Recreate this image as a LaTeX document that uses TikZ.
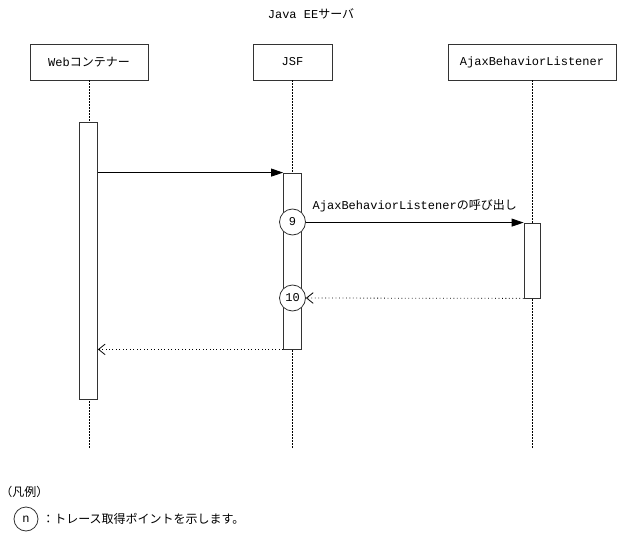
\documentclass[tikz,border=0pt]{standalone}
\usepackage{fontspec}
\setmainfont{Liberation Mono}
\newfontfamily\jp{Noto Sans CJK JP}
\usetikzlibrary{arrows.meta,positioning}

\begin{document}
\begin{tikzpicture}[x=0.75pt,y=-0.75pt,font=\fontsize{9pt}{11pt}\selectfont,
  lifebox/.style={draw=black!80,line width=0.6pt,inner sep=0pt,minimum height=27pt},
  actbox/.style={draw=black!80,fill=white,line width=0.6pt,inner sep=0pt,minimum width=13.5pt},
  lifeline/.style={line width=0.6pt,dash pattern=on 1.5pt off 0.75pt},
  msg/.style={line width=0.6pt,-{Triangle[length=9pt,width=6pt]}},
  ret/.style={line width=0.6pt,dotted,-{Straight Barb[length=5pt,width=8pt]}},
  tpoint/.style={draw=black!80,fill=white,circle,line width=0.6pt,inner sep=0pt,minimum size=19.5pt}]
\useasboundingbox (0,0) rectangle (623,559);

% title and objects
\node (title) at (311,14) {Java EE{\jp サーバ}};
\node[lifebox,minimum width=88.5pt] (web) at (89,62) {Web{\jp コンテナー}};
\node[lifebox,minimum width=59.25pt] (jsf) at (292.5,62) {JSF};
\node[lifebox,minimum width=126pt] (abl) at (532,62) {AjaxBehaviorListener};

% lifelines
\coordinate (bot) at (0,448);
\draw[lifeline] (web.south) -- (web.south |- bot);
\draw[lifeline] (jsf.south) -- (jsf.south |- bot);
\draw[lifeline] (abl.south) -- (abl.south |- bot);

% activations
\node[actbox,minimum height=207.75pt] (webact) at (88.5,260.5) {};
\node[actbox,minimum height=132pt] (jsfact) at (292.5,261) {};
\node[actbox,minimum width=12pt,minimum height=56.25pt] (ablact) at (532,260.5) {};

% trace points
\node[tpoint] (p9) at (292.5,222) {9};
\node[tpoint] (p10) at (292.5,298) {10};

% messages
\draw[msg] (webact.east |- jsfact.north) -- (jsfact.north west);
\draw[msg] (p9.east |- ablact.north) -- node[above=4pt] (call) {AjaxBehaviorListener{\jp の呼び出し}} (ablact.north west);
\draw[ret] (ablact.south west) -- (p10.east);
\draw[ret] (jsfact.south west) -- (webact.east |- jsfact.south);

% legend
\node[anchor=west,inner sep=0pt] (hanrei) at (0,492) {\jp （凡例）};
\node[tpoint,minimum size=18pt] (pn) at (26,519) {n};
\node[anchor=west,inner sep=0pt] (pntext) at (42,519) {\jp ：トレース取得ポイントを示します。};
\end{tikzpicture}
\end{document}
